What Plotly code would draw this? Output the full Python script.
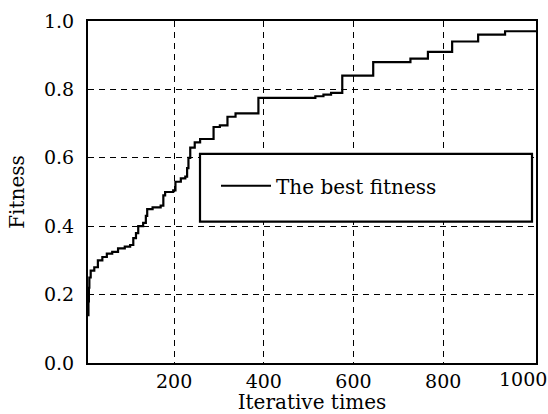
import plotly.graph_objects as go

# Iteration numbers where the best fitness changes, and the best fitness value reached there
iterations = [8, 9, 10, 11, 14, 22, 30, 40, 50, 62, 75, 90, 102, 109, 115, 120, 131, 137,
              140, 152, 170, 176, 180, 198, 203, 215, 225, 229, 232, 236, 246, 258, 288,
              302, 319, 337, 388, 432, 483, 515, 533, 550, 575, 644, 684, 727, 766, 820,
              878, 938, 1007]
best_fitness = [0.14, 0.18, 0.22, 0.25, 0.27, 0.28, 0.30, 0.31, 0.32, 0.325, 0.335, 0.34,
                0.345, 0.365, 0.38, 0.40, 0.41, 0.43, 0.45, 0.455, 0.46, 0.49, 0.50, 0.505,
                0.53, 0.54, 0.545, 0.57, 0.60, 0.63, 0.645, 0.655, 0.69, 0.695, 0.72, 0.73,
                0.775, 0.775, 0.775, 0.78, 0.785, 0.79, 0.84, 0.88, 0.88, 0.89, 0.91, 0.94,
                0.96, 0.97, 0.97]

x_ticks = [200, 400, 600, 800, 1000]
x_tick_labels = ["200", "400", "600", "800", "1000"]
y_ticks = [0.0, 0.2, 0.4, 0.6, 0.8, 1.0]
y_tick_labels = ["0.0", "0.2", "0.4", "0.6", "0.8", "1.0"]
series_name = "The best fitness"
x_title = "Iterative times"
y_title = "Fitness"

FONT = "DejaVu Serif"
W, H = 548, 414
L, R, T, B = 88, 12, 21, 50.5
PW, PH = W - L - R, H - T - B

fig = go.Figure()
fig.add_trace(go.Scatter(
    x=iterations, y=best_fitness, mode="lines", name=series_name,
    line=dict(color="black", width=2.2, shape="hv"),
))

# legend frame (opaque white box with black border)
fig.add_shape(type="rect", xref="paper", yref="paper",
              x0=(200 - L) / PW, x1=(532 - L) / PW,
              y0=(H - B - 222) / PH, y1=(H - B - 154) / PH,
              line=dict(color="black", width=2.2), fillcolor="white", layer="above")

# the last x tick label sits pulled inside the figure edge, as in the original
fig.add_annotation(x=x_ticks[-1], xref="x", y=0, yref="paper", yanchor="top",
                   text=x_tick_labels[-1], showarrow=False, xanchor="right",
                   xshift=16, yshift=-3, font=dict(family=FONT, size=19, color="black"))

axis_style = dict(showgrid=True, gridcolor="black", gridwidth=1.3, griddash="6px,5px",
                  showline=True, linecolor="black", linewidth=2.2, mirror=True,
                  ticks="", zeroline=False, automargin=False,
                  tickfont=dict(family=FONT, size=19, color="black"))

fig.update_layout(
    width=W, height=H,
    margin=dict(l=L, r=R, t=T, b=B, autoexpand=False),
    paper_bgcolor="white", plot_bgcolor="white",
    font=dict(family=FONT, size=20, color="black"),
    showlegend=True,
    legend=dict(x=(216 - L) / PW, y=(H - B - 186) / PH, xanchor="left", yanchor="middle",
                bgcolor="rgba(0,0,0,0)", borderwidth=0, itemwidth=50,
                font=dict(family=FONT, size=20, color="black")),
    xaxis=dict(range=[8, 1007], tickvals=x_ticks[:-1], ticktext=x_tick_labels[:-1],
               ticklabelstandoff=0,
               title=dict(text=x_title, standoff=0, font=dict(family=FONT, size=20)),
               **axis_style),
    yaxis=dict(range=[0, 1.0], tickvals=y_ticks, ticktext=y_tick_labels,
               ticklabelstandoff=8,
               title=dict(text=y_title, standoff=14, font=dict(family=FONT, size=20)),
               **axis_style),
)

fig.write_html("out.html", config={"displayModeBar": False},
               post_script="document.body.style.margin='0';")
